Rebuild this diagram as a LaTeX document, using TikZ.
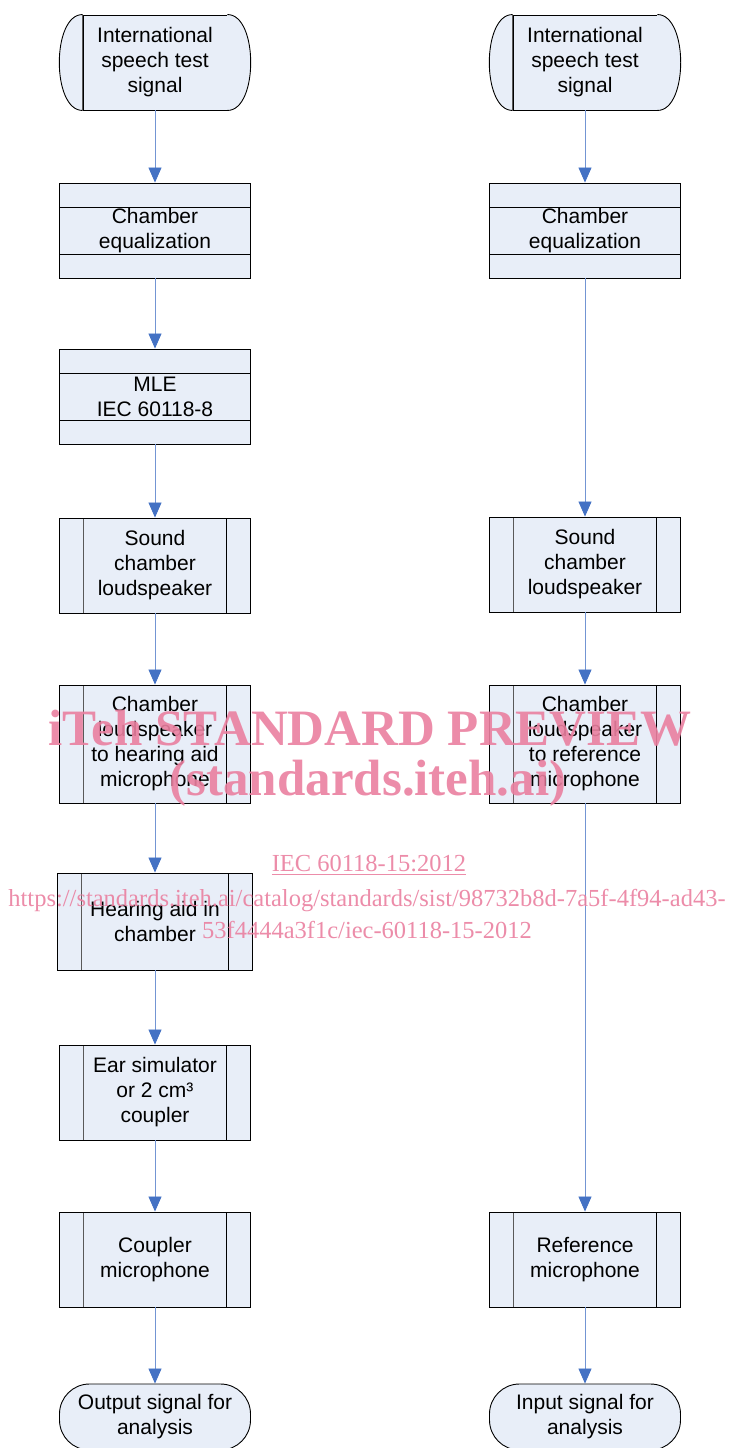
\documentclass[tikz,border=0pt]{standalone}
\usepackage{fontspec}
\setmainfont{Liberation Sans}
\newfontfamily\wmfont{Liberation Serif}
\usetikzlibrary{arrows.meta}

\definecolor{boxfill}{HTML}{E8EEF8}
\definecolor{flowblue}{HTML}{4472C4}
\definecolor{wmpink}{RGB}{234,128,160}

\begin{document}
\begin{tikzpicture}[x=1pt, y=1pt,
    box/.style={draw=black, fill=boxfill, line width=0.9pt,
                minimum width=191, minimum height=95, inner sep=0pt,
                align=center, font=\fontsize{21}{25}\selectfont},
    hbars/.style={box, path picture={
        \draw[line width=0.9pt]
          ([yshift=-24]path picture bounding box.north west) --
          ([yshift=-24]path picture bounding box.north east)
          ([yshift=24]path picture bounding box.south west) --
          ([yshift=24]path picture bounding box.south east);}},
    vbars/.style={box, path picture={
        \draw[gray!70!black, line width=1.4pt]
          ([xshift=24]path picture bounding box.north west) --
          ([xshift=24]path picture bounding box.south west);
        \draw[line width=0.9pt]
          ([xshift=-24]path picture bounding box.north east) --
          ([xshift=-24]path picture bounding box.south east);}},
    startbox/.style={box, minimum width=144},
    endbox/.style={box, minimum height=66, rounded corners=30},
    flow/.style={draw=flowblue!75, line width=0.8pt,
                 -{Triangle[length=15pt,width=13pt,color=flowblue]}},
    wm/.style={text=wmpink, text opacity=0.9, inner sep=0pt}]

  \useasboundingbox (0,0) rectangle (729,-1448);

  % Column positions
  \pgfmathsetmacro{\colL}{155}
  \pgfmathsetmacro{\colR}{585}

  % Left chain: hearing aid path
  \node[startbox] (inL) at (\colL,-62.5) {International\\speech test\\signal};
  \node[hbars] (eqL) at (\colL,-230.5) {Chamber\\equalization};
  \node[hbars] (mle) at (\colL,-396.5) {MLE\\IEC 60118-8};
  \node[vbars] (spkL) at (\colL,-565.5) {Sound\\chamber\\loudspeaker};
  \node[vbars, minimum height=118] (pathL) at (\colL,-744)
    {Chamber\\loudspeaker\\to hearing aid\\microphone};
  \node[vbars, minimum width=195, minimum height=97] (hac) at (\colL,-921.5)
    {Hearing aid in\\chamber};
  \node[vbars] (ear) at (\colL,-1092.5) {Ear simulator\\or 2 cm³\\coupler};
  \node[vbars] (micL) at (\colL,-1259.5) {Coupler\\microphone};
  \node[endbox] (outL) at (\colL,-1417) {Output signal for\\analysis};

  % Right chain: reference path
  \node[startbox] (inR) at (\colR,-62.5) {International\\speech test\\signal};
  \node[hbars] (eqR) at (\colR,-230.5) {Chamber\\equalization};
  \node[vbars] (spkR) at (\colR,-564.5) {Sound\\chamber\\loudspeaker};
  \node[vbars, minimum height=118] (pathR) at (\colR,-744)
    {Chamber\\loudspeaker\\to reference\\microphone};
  \node[vbars] (micR) at (\colR,-1259.5) {Reference\\microphone};
  \node[endbox] (outR) at (\colR,-1417) {Input signal for\\analysis};

  % Curved ends of the two start shapes
  \foreach \s in {inL,inR}
  {
    \draw[fill=boxfill, line width=0.9pt] (\s.north west)
      .. controls +(-31,0) and +(-31,0) .. (\s.south west);
    \draw[fill=boxfill, line width=0.9pt] (\s.north east)
      .. controls +(31,0) and +(31,0) .. (\s.south east);
    \draw[gray!70!black, line width=1.4pt] (\s.north west) -- (\s.south west);
  }

  % Signal flow
  \foreach \a/\b in {inL/eqL, eqL/mle, mle/spkL, spkL/pathL, pathL/hac,
                     hac/ear, ear/micL, micL/outL,
                     inR/eqR, eqR/spkR, spkR/pathR, pathR/micR, micR/outR}
    \draw[flow] (\a) -- (\b);

  % Watermark on top
  \node[wm, font=\wmfont\bfseries\fontsize{51}{51}\selectfont] (wmtitle)
    at (370,-728) {iTeh STANDARD PREVIEW};
  \node[wm, font=\wmfont\bfseries\fontsize{51}{51}\selectfont] (wmsite)
    at (368,-783) {(standards.iteh.ai)};
  \node[wm, font=\wmfont\fontsize{24.5}{24.5}\selectfont] (wmstd)
    at (369,-865) {\underline{IEC 60118-15:2012}};
  \node[wm, font=\wmfont\fontsize{24.5}{32}\selectfont, align=center] (wmurl)
    at (367,-914)
    {https://standards.iteh.ai/catalog/standards/sist/98732b8d-7a5f-4f94-ad43-\\
     53f4444a3f1c/iec-60118-15-2012};
\end{tikzpicture}
\end{document}
